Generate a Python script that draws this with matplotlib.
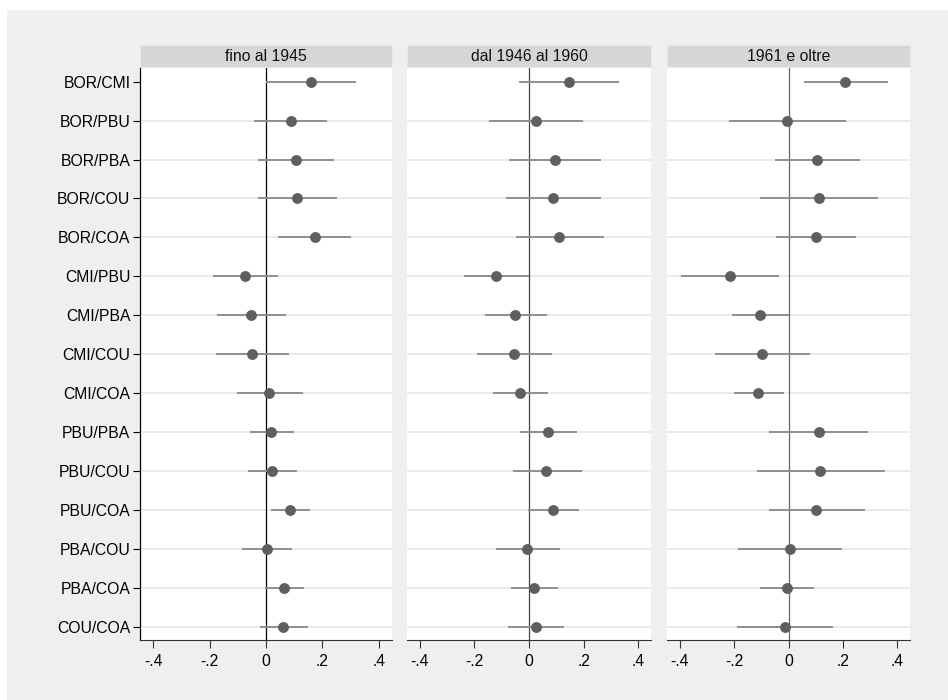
import matplotlib
matplotlib.use("Agg")
import matplotlib.pyplot as plt
from matplotlib.patches import Rectangle
import numpy as np

plt.rcParams["font.family"] = ["Liberation Sans", "DejaVu Sans"]

# --- Data (point estimate, lower CI, upper CI) ---
pairs = [
    "BOR/CMI", "BOR/PBU", "BOR/PBA", "BOR/COU", "BOR/COA",
    "CMI/PBU", "CMI/PBA", "CMI/COU", "CMI/COA",
    "PBU/PBA", "PBU/COU", "PBU/COA",
    "PBA/COU", "PBA/COA", "COU/COA",
]
periods = ["fino al 1945", "dal 1946 al 1960", "1961 e oltre"]

est_1945 = [0.159, 0.087, 0.106, 0.111, 0.173, -0.073, -0.054, -0.050, 0.012,
            0.019, 0.022, 0.085, 0.002, 0.063, 0.060]
lo_1945 = [0.000, -0.041, -0.028, -0.028, 0.044, -0.189, -0.173, -0.179, -0.104,
           -0.057, -0.064, 0.016, -0.085, -0.002, -0.022]
hi_1945 = [0.321, 0.217, 0.243, 0.251, 0.301, 0.044, 0.070, 0.083, 0.130,
           0.098, 0.110, 0.155, 0.094, 0.136, 0.149]

est_1960 = [0.146, 0.026, 0.094, 0.088, 0.111, -0.120, -0.050, -0.056, -0.032,
            0.070, 0.062, 0.088, -0.006, 0.018, 0.026]
lo_1960 = [-0.035, -0.146, -0.072, -0.084, -0.048, -0.239, -0.163, -0.192, -0.132,
           -0.032, -0.060, -0.002, -0.121, -0.066, -0.076]
hi_1960 = [0.331, 0.197, 0.265, 0.265, 0.275, 0.001, 0.065, 0.083, 0.069,
           0.177, 0.193, 0.183, 0.115, 0.108, 0.130]

est_1961 = [0.209, -0.007, 0.106, 0.113, 0.100, -0.216, -0.105, -0.097, -0.111,
            0.113, 0.117, 0.102, 0.006, -0.007, -0.013]
lo_1961 = [0.056, -0.220, -0.050, -0.105, -0.047, -0.395, -0.208, -0.272, -0.202,
           -0.071, -0.117, -0.073, -0.186, -0.105, -0.190]
hi_1961 = [0.367, 0.212, 0.264, 0.330, 0.248, -0.034, 0.000, 0.078, -0.017,
           0.294, 0.355, 0.283, 0.198, 0.092, 0.163]

xticks = [-0.4, -0.2, 0, 0.2, 0.4]
xticklabels = ["-.4", "-.2", "0", ".2", ".4"]

panels = [
    (est_1945, lo_1945, hi_1945),
    (est_1960, lo_1960, hi_1960),
    (est_1961, lo_1961, hi_1961),
]

W, H = 948, 700
fig = plt.figure(figsize=(W / 100, H / 100), dpi=100)
fig.patch.set_facecolor("white")

# light grey graph region (Stata-like), drawn on a background axes
bg = fig.add_axes([0, 0, 1, 1], zorder=-10)
bg.axis("off")
bg.add_patch(Rectangle((7 / W, 0), 1, 1 - 10 / H, transform=bg.transAxes,
                       facecolor="#efefef", edgecolor="none"))

# panel pixel extents (left, right)
panel_px = [(140, 392), (407, 651), (667, 910)]
top_px, bot_px = 68, 640
zero_colors = ["black", "#444444", "#666666"]
fs = 11.3

y = np.arange(len(pairs))

for i, (ax_px, (est, lo, hi)) in enumerate(zip(panel_px, panels)):
    l, r = ax_px
    ax = fig.add_axes([l / W, (H - bot_px) / H, (r - l) / W, (bot_px - top_px) / H])
    ax.set_facecolor("white")

    # horizontal grid (none on first row)
    for yy in y[1:]:
        ax.axhline(yy, color="#e6e6e6", lw=1.1, zorder=1)
    ax.axvline(0, color=zero_colors[i], lw=0.9, zorder=2)

    ax.hlines(y, lo, hi, color="#8f8f8f", lw=1.4, zorder=3)
    ax.plot(est, y, "o", color="#5f5f5f", ms=6.8, mec="#5f5f5f", zorder=4)

    ax.set_xlim(-0.447, 0.447)
    ax.set_ylim(len(pairs) - 1 + 0.34, -0.35)
    ax.set_xticks(xticks)
    ax.set_xticklabels(xticklabels, fontsize=fs)
    ax.tick_params(axis="x", length=6, width=0.8, color="#333333", pad=4)

    for s in ["top", "right"]:
        ax.spines[s].set_visible(False)
    ax.spines["bottom"].set_color("#333333")
    ax.spines["bottom"].set_linewidth(0.8)

    if i == 0:
        ax.set_yticks(y)
        ax.set_yticklabels(pairs, fontsize=fs)
        ax.tick_params(axis="y", length=5, width=0.8, pad=2)
        ax.spines["left"].set_color("black")
        ax.spines["left"].set_linewidth(0.9)
    else:
        ax.set_yticks([])
        ax.spines["left"].set_visible(False)

    # strip header
    hh = 22 / (bot_px - top_px)
    ax.add_patch(Rectangle((0, 1 + 1 / (bot_px - top_px)), 1, hh, transform=ax.transAxes,
                           facecolor="#d6d6d6", edgecolor="#e2eaf0", lw=0.8,
                           clip_on=False))
    ax.text(0.5, 1 + hh / 2 + 1 / (bot_px - top_px), periods[i], transform=ax.transAxes,
            ha="center", va="center", fontsize=fs, color="#111111")

fig.savefig("out.png", dpi=100, facecolor=fig.get_facecolor())
